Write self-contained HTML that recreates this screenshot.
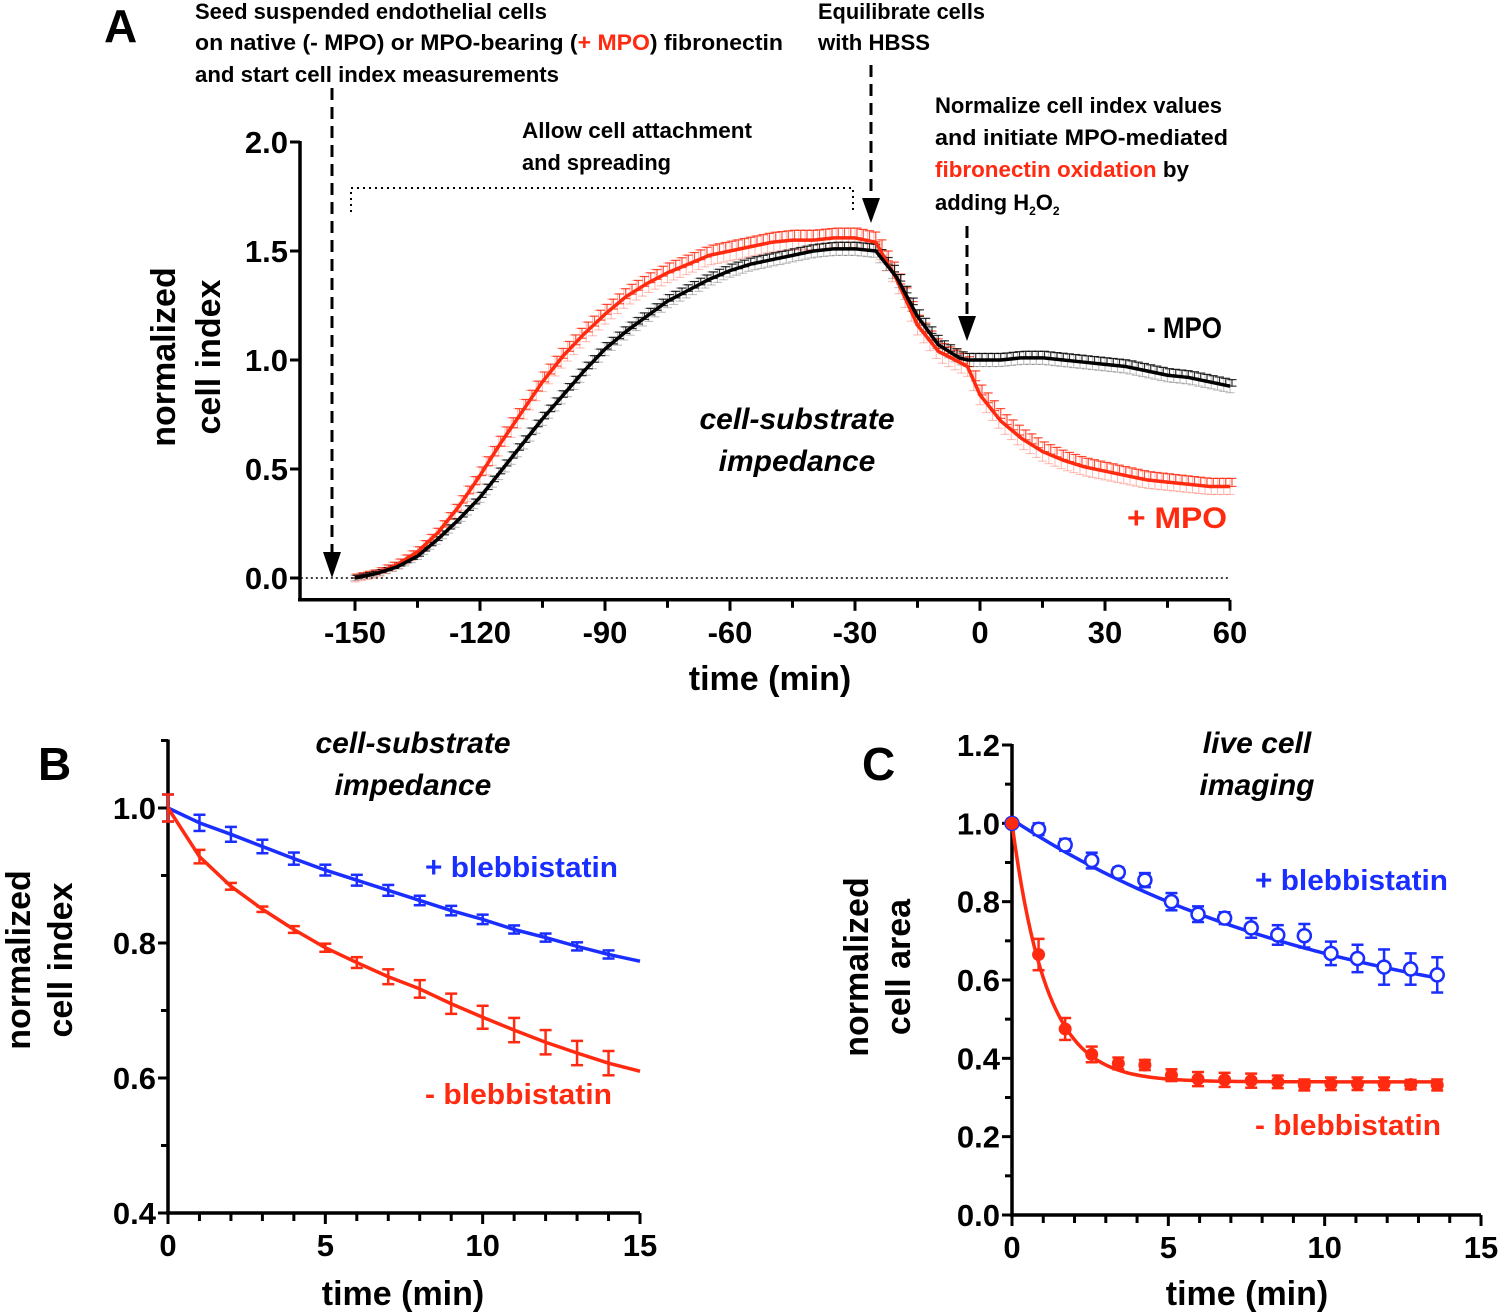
<!DOCTYPE html>
<html><head><meta charset="utf-8"><style>
html,body{margin:0;padding:0;background:#fff}
svg{display:block}
text{font-family:"Liberation Sans",sans-serif;font-weight:bold}
</style></head><body>
<svg id="fig" width="1500" height="1313" viewBox="0 0 1500 1313" xmlns="http://www.w3.org/2000/svg">
<g>
<text x="104" y="42" font-size="46">A</text>
<text x="195" y="19" font-size="22" textLength="352" lengthAdjust="spacingAndGlyphs">Seed suspended endothelial cells</text>
<text x="195" y="50" font-size="22" textLength="588" lengthAdjust="spacingAndGlyphs">on native (- MPO) or MPO-bearing (<tspan fill="#ff2a10">+ MPO</tspan>) fibronectin</text>
<text x="195" y="82" font-size="22" textLength="364" lengthAdjust="spacingAndGlyphs">and start cell index measurements</text>
<text x="818" y="19" font-size="22" textLength="167" lengthAdjust="spacingAndGlyphs">Equilibrate cells</text>
<text x="818" y="50" font-size="22" textLength="112" lengthAdjust="spacingAndGlyphs">with HBSS</text>
<text x="522" y="138" font-size="22" textLength="230" lengthAdjust="spacingAndGlyphs">Allow cell attachment</text>
<text x="522" y="170" font-size="22" textLength="149" lengthAdjust="spacingAndGlyphs">and spreading</text>
<text x="935" y="113" font-size="22" textLength="287" lengthAdjust="spacingAndGlyphs">Normalize cell index values</text>
<text x="935" y="145" font-size="22" textLength="293" lengthAdjust="spacingAndGlyphs">and initiate MPO-mediated</text>
<text x="935" y="177" font-size="22" textLength="254" lengthAdjust="spacingAndGlyphs"><tspan fill="#ff2a10">fibronectin oxidation</tspan> by</text>
<text x="935" y="210" font-size="22">adding H<tspan font-size="12" dy="5">2</tspan><tspan dy="-5">O</tspan><tspan font-size="12" dy="5">2</tspan></text>
<line x1="332" y1="88" x2="332" y2="556" stroke="#000" stroke-width="3" stroke-dasharray="12,7"/>
<polygon points="323,552 341,552 332,578" fill="#000"/>
<line x1="871" y1="65" x2="871" y2="200" stroke="#000" stroke-width="3" stroke-dasharray="12,7"/>
<polygon points="862,198 880,198 871,223" fill="#000"/>
<line x1="967" y1="226" x2="967" y2="318" stroke="#000" stroke-width="3" stroke-dasharray="12,7"/>
<polygon points="958,316 976,316 967,341" fill="#000"/>
<path d="M351,212 V188 H853 V212" fill="none" stroke="#000" stroke-width="2" stroke-dasharray="2,4"/>
<text x="1147" y="338" font-size="30" textLength="75" lengthAdjust="spacingAndGlyphs">- MPO</text>
<text x="1127" y="528" font-size="30" textLength="100" lengthAdjust="spacingAndGlyphs" fill="#ff2a10">+ MPO</text>
<text x="797" y="429" font-size="30" font-style="italic" text-anchor="middle">cell-substrate</text>
<text x="797" y="471" font-size="30" font-style="italic" text-anchor="middle">impedance</text>
</g>
<g>
<text x="38" y="780" font-size="46">B</text>
<text x="413" y="753" font-size="30" font-style="italic" text-anchor="middle">cell-substrate</text>
<text x="413" y="795" font-size="30" font-style="italic" text-anchor="middle">impedance</text>
<text x="425" y="877" font-size="29" textLength="193" lengthAdjust="spacingAndGlyphs" fill="#1a2eff">+ blebbistatin</text>
<text x="425" y="1104" font-size="29" textLength="187" lengthAdjust="spacingAndGlyphs" fill="#ff2a10">- blebbistatin</text>
</g>
<g>
<text x="862" y="780" font-size="46">C</text>
<text x="1257" y="753" font-size="30" font-style="italic" text-anchor="middle">live cell</text>
<text x="1257" y="795" font-size="30" font-style="italic" text-anchor="middle">imaging</text>
<text x="1255" y="890" font-size="29" textLength="193" lengthAdjust="spacingAndGlyphs" fill="#1a2eff">+ blebbistatin</text>
<text x="1255" y="1135" font-size="29" textLength="186" lengthAdjust="spacingAndGlyphs" fill="#ff2a10">- blebbistatin</text>
</g>
</svg>
<script>
// ---- Panel A data ----
const aTime = [-150,-145,-140,-135,-130,-125,-120,-115,-110,-105,-100,-95,-90,-85,-80,-75,-70,-65,-60,-55,-50,-45,-40,-35,-30,-25,-20,-15,-10,-5,-3,0,5,10,15,20,25,30,35,40,45,50,55,60];
const aMinusMPO = [0,0.02,0.05,0.1,0.18,0.27,0.37,0.49,0.61,0.73,0.84,0.95,1.05,1.13,1.2,1.27,1.32,1.37,1.41,1.44,1.46,1.48,1.5,1.51,1.51,1.5,1.38,1.2,1.07,1.01,1.0,1.0,1.0,1.01,1.01,1.0,0.99,0.98,0.97,0.95,0.93,0.92,0.9,0.88];
const aPlusMPO = [0,0.02,0.06,0.12,0.21,0.33,0.47,0.62,0.76,0.9,1.02,1.12,1.21,1.29,1.35,1.4,1.44,1.48,1.5,1.52,1.54,1.55,1.55,1.56,1.56,1.54,1.37,1.16,1.04,0.99,0.97,0.84,0.72,0.64,0.58,0.54,0.51,0.49,0.47,0.45,0.44,0.43,0.42,0.42];
const aMinusErr = 0.03;
const aPlusErr = 0.045;
const aYTicks = ["0.0","0.5","1.0","1.5","2.0"];
const aXTicks = ["-150","-120","-90","-60","-30","0","30","60"];
// ---- Panel B data ----
const bTime = [0,1,2,3,4,5,6,7,8,9,10,11,12,13,14];
const bPlus = [1.0,0.978,0.961,0.943,0.925,0.908,0.893,0.878,0.863,0.848,0.835,0.82,0.808,0.795,0.783];
const bPlusErr = [0.02,0.012,0.011,0.01,0.009,0.008,0.008,0.008,0.007,0.007,0.007,0.006,0.006,0.006,0.006];
const bMinus = [1.0,0.928,0.884,0.85,0.82,0.793,0.771,0.75,0.732,0.71,0.69,0.671,0.653,0.637,0.622];
const bMinusErr = [0.02,0.01,0.005,0.004,0.005,0.006,0.008,0.011,0.013,0.015,0.017,0.018,0.018,0.018,0.018];
const bLineEnd = [15,0.773,0.61];
const bYTicks = ["0.4","0.6","0.8","1.0"];
const bXTicks = ["0","5","10","15"];
// ---- Panel C data ----
const cTime = [0,0.85,1.7,2.55,3.4,4.25,5.1,5.95,6.8,7.65,8.5,9.35,10.2,11.05,11.9,12.75,13.6];
const cPlus = [1.0,0.985,0.945,0.905,0.875,0.855,0.8,0.768,0.758,0.733,0.715,0.713,0.668,0.655,0.633,0.628,0.613];
const cPlusErr = [0.005,0.015,0.015,0.02,0.012,0.018,0.022,0.02,0.015,0.025,0.025,0.03,0.03,0.035,0.045,0.04,0.045];
const cMinus = [1.0,0.665,0.475,0.41,0.387,0.383,0.357,0.347,0.345,0.343,0.34,0.332,0.335,0.335,0.335,0.333,0.332];
const cMinusErr = [0.005,0.04,0.028,0.02,0.015,0.013,0.015,0.018,0.018,0.018,0.016,0.014,0.016,0.016,0.016,0.012,0.014];
const cMinusFit = [0.34,0.66,1.1];   // plateau, span, tau
const cPlusFit = [0.45,0.56,10.6];   // plateau, span, tau
const cYTicks = ["0.0","0.2","0.4","0.6","0.8","1.0","1.2"];
const cXTicks = ["0","5","10","15"];

const NS="http://www.w3.org/2000/svg";
const svg=document.getElementById('fig');
const RED="#ff2a10", BLUE="#1a2eff";
function mk(tag,attrs,parent){const e=document.createElementNS(NS,tag);for(const k in attrs)e.setAttribute(k,attrs[k]);(parent||svg).appendChild(e);return e;}
function lin(d0,d1,r0,r1){return v=>r0+(v-d0)*(r1-r0)/(d1-d0);}

function axes(g,X,Y,x0,x1,y0,y1,xTicks,yTicks,xMinor,yMinor,name){
  let e=mk('line',{x1:X(x0),y1:Y(y1)-1,x2:X(x0),y2:Y(y0),stroke:'#000','stroke-width':3.5},g);
  
  
  e=mk('line',{x1:X(x0)-2,y1:Y(y0),x2:X(x1),y2:Y(y0),stroke:'#000','stroke-width':3.5},g);
  
  
  yTicks.forEach(t=>{const v=+t;const y=Y(v);
    mk('line',{x1:X(x0)-10,y1:y,x2:X(x0),y2:y,stroke:'#000','stroke-width':3},g);
    const tx=mk('text',{x:X(x0)-12,y:y+11,'font-size':31,'text-anchor':'end'},g);tx.textContent=t;
    
    
  });
  yMinor.forEach(v=>mk('line',{x1:X(x0)-7,y1:Y(v),x2:X(x0),y2:Y(v),stroke:'#000','stroke-width':3},g));
  xTicks.forEach(t=>{const v=+t;const x=X(v);
    mk('line',{x1:x,y1:Y(y0),x2:x,y2:Y(y0)+11,stroke:'#000','stroke-width':3},g);
    const tx=mk('text',{x:x,y:Y(y0)+43,'font-size':31,'text-anchor':'middle'},g);tx.textContent=t;
    
    
  });
  xMinor.forEach(v=>mk('line',{x1:X(v),y1:Y(y0),x2:X(v),y2:Y(y0)+8,stroke:'#000','stroke-width':3},g));
}
function title(g,txt,x,y,rot,name){const t=mk('text',{x:x,y:y,'font-size':34,'text-anchor':'middle',transform:rot?`rotate(-90 ${x} ${y})`:''},g);t.textContent=txt;
  
  }
function errbar(g,x,y1,y2,col,w,sw,op){
  mk('line',{x1:x,y1:y1,x2:x,y2:y2,stroke:col,'stroke-width':sw,opacity:op},g);
  mk('line',{x1:x-w,y1:y1,x2:x+w,y2:y1,stroke:col,'stroke-width':sw,opacity:op},g);
  mk('line',{x1:x-w,y1:y2,x2:x+w,y2:y2,stroke:col,'stroke-width':sw,opacity:op},g);
}
function interp(xs,ys,x){for(let i=0;i<xs.length-1;i++){if(x>=xs[i]&&x<=xs[i+1]){const f=(x-xs[i])/(xs[i+1]-xs[i]);return ys[i]+f*(ys[i+1]-ys[i]);}}return ys[ys.length-1];}

// ===== Panel A =====
(function(){
  const g=mk('g',{});
  
  
  const X=lin(-150,60,355,1230), Y=lin(0,2,578,142);
  axes(g,X,Y,-163.2,60,-0.1,2,aXTicks,aYTicks,[-135,-105,-75,-45,-15,15,45],[],'panel-a');
  let e=mk('line',{x1:X(-163),y1:Y(0),x2:X(60),y2:Y(0),stroke:'#000','stroke-width':1.5,'stroke-dasharray':'2,3'},g);
  
  
  title(g,'normalized',175,357,true,'panel-a-y-title-1');
  title(g,'cell index',220,357,true,'panel-a-y-title-2');
  title(g,'time (min)',770,690,false,'panel-a-x-title');
  for(let t=aTime[0];t<=60.01;t+=1.5){
    const vr=interp(aTime,aPlusMPO,t), vb=interp(aTime,aMinusMPO,t);
    const er=aPlusErr*Math.min(1,0.4+vr), eb=aMinusErr*Math.min(1,0.4+vb);
    errbar(g,X(t),Y(vr+er),Y(vr-er),RED,4.5,1.1,0.3);
    errbar(g,X(t)+2,Y(vr+er),Y(vr),RED,4.5,1.2,0.8);
    errbar(g,X(t),Y(vb+eb),Y(vb-eb),'#000',4.5,1.1,0.25);
    errbar(g,X(t)+2,Y(vb+eb),Y(vb),'#000',4.5,1.2,0.8);
  }
  e=mk('polyline',{points:aTime.map((t,i)=>X(t)+','+Y(aPlusMPO[i])).join(' '),fill:'none',stroke:RED,'stroke-width':3.5,'stroke-linejoin':'round'},g);
  
  
  e=mk('polyline',{points:aTime.map((t,i)=>X(t)+','+Y(aMinusMPO[i])).join(' '),fill:'none',stroke:'#000','stroke-width':3.5,'stroke-linejoin':'round'},g);
  
  
})();

// ===== Panel B =====
(function(){
  const g=mk('g',{});
  
  
  const X=lin(0,15,168,640), Y=lin(0.4,1.0,1213,808);
  axes(g,X,Y,0,15,0.4,1.1,bXTicks,bYTicks,[1,2,3,4,6,7,8,9,11,12,13,14],[0.5,0.7,0.9,1.1],'panel-b');
  title(g,'normalized',30,960,true,'panel-b-y-title-1');
  title(g,'cell index',72,960,true,'panel-b-y-title-2');
  title(g,'time (min)',403,1305,false,'panel-b-x-title');
  [[bPlus,bPlusErr,BLUE,bLineEnd[1],'blue'],[bMinus,bMinusErr,RED,bLineEnd[2],'red']].forEach(([ys,er,col,end,nm])=>{
    ys.forEach((v,i)=>errbar(g,X(bTime[i]),Y(v+er[i]),Y(v-er[i]),col,6,2.5,1));
    const pts=bTime.map((t,i)=>X(t)+','+Y(ys[i])); pts.push(X(bLineEnd[0])+','+Y(end));
    const e=mk('polyline',{points:pts.join(' '),fill:'none',stroke:col,'stroke-width':3.5,'stroke-linejoin':'round'},g);
    
    
  });
})();

// ===== Panel C =====
(function(){
  const g=mk('g',{});
  
  
  const X=lin(0,15,1012,1481), Y=lin(0,1.2,1215,745);
  axes(g,X,Y,0,15,0,1.2,cXTicks,cYTicks,[1,2,3,4,6,7,8,9,11,12,13,14],[0.1,0.3,0.5,0.7,0.9,1.1],'panel-c');
  title(g,'normalized',868,967,true,'panel-c-y-title-1');
  title(g,'cell area',910,967,true,'panel-c-y-title-2');
  title(g,'time (min)',1247,1305,false,'panel-c-x-title');
  const tEnd=cTime[cTime.length-1];
  let pb=[],pr=[];
  for(let t=0;t<=tEnd+0.001;t+=0.1){
    pb.push(X(t)+','+Y(cPlusFit[0]+cPlusFit[1]*Math.exp(-t/cPlusFit[2])));
    pr.push(X(t)+','+Y(cMinusFit[0]+cMinusFit[1]*Math.exp(-t/cMinusFit[2])));
  }
  let e=mk('polyline',{points:pb.join(' '),fill:'none',stroke:BLUE,'stroke-width':3.5},g);
  
  
  e=mk('polyline',{points:pr.join(' '),fill:'none',stroke:RED,'stroke-width':3.5},g);
  
  
  cTime.forEach((t,i)=>{
    errbar(g,X(t),Y(cPlus[i]+cPlusErr[i]),Y(cPlus[i]-cPlusErr[i]),BLUE,6,2.5,1);
    const c=mk('circle',{cx:X(t),cy:Y(cPlus[i]),r:6.5,fill:'#fff',stroke:BLUE,'stroke-width':2.5},g);
    
    
    errbar(g,X(t),Y(cMinus[i]+cMinusErr[i]),Y(cMinus[i]-cMinusErr[i]),RED,6,2.5,1);
    const d=mk('circle',{cx:X(t),cy:Y(cMinus[i]),r:6.5,fill:RED},g);
    
    
  });
})();
</script>
</body></html>
